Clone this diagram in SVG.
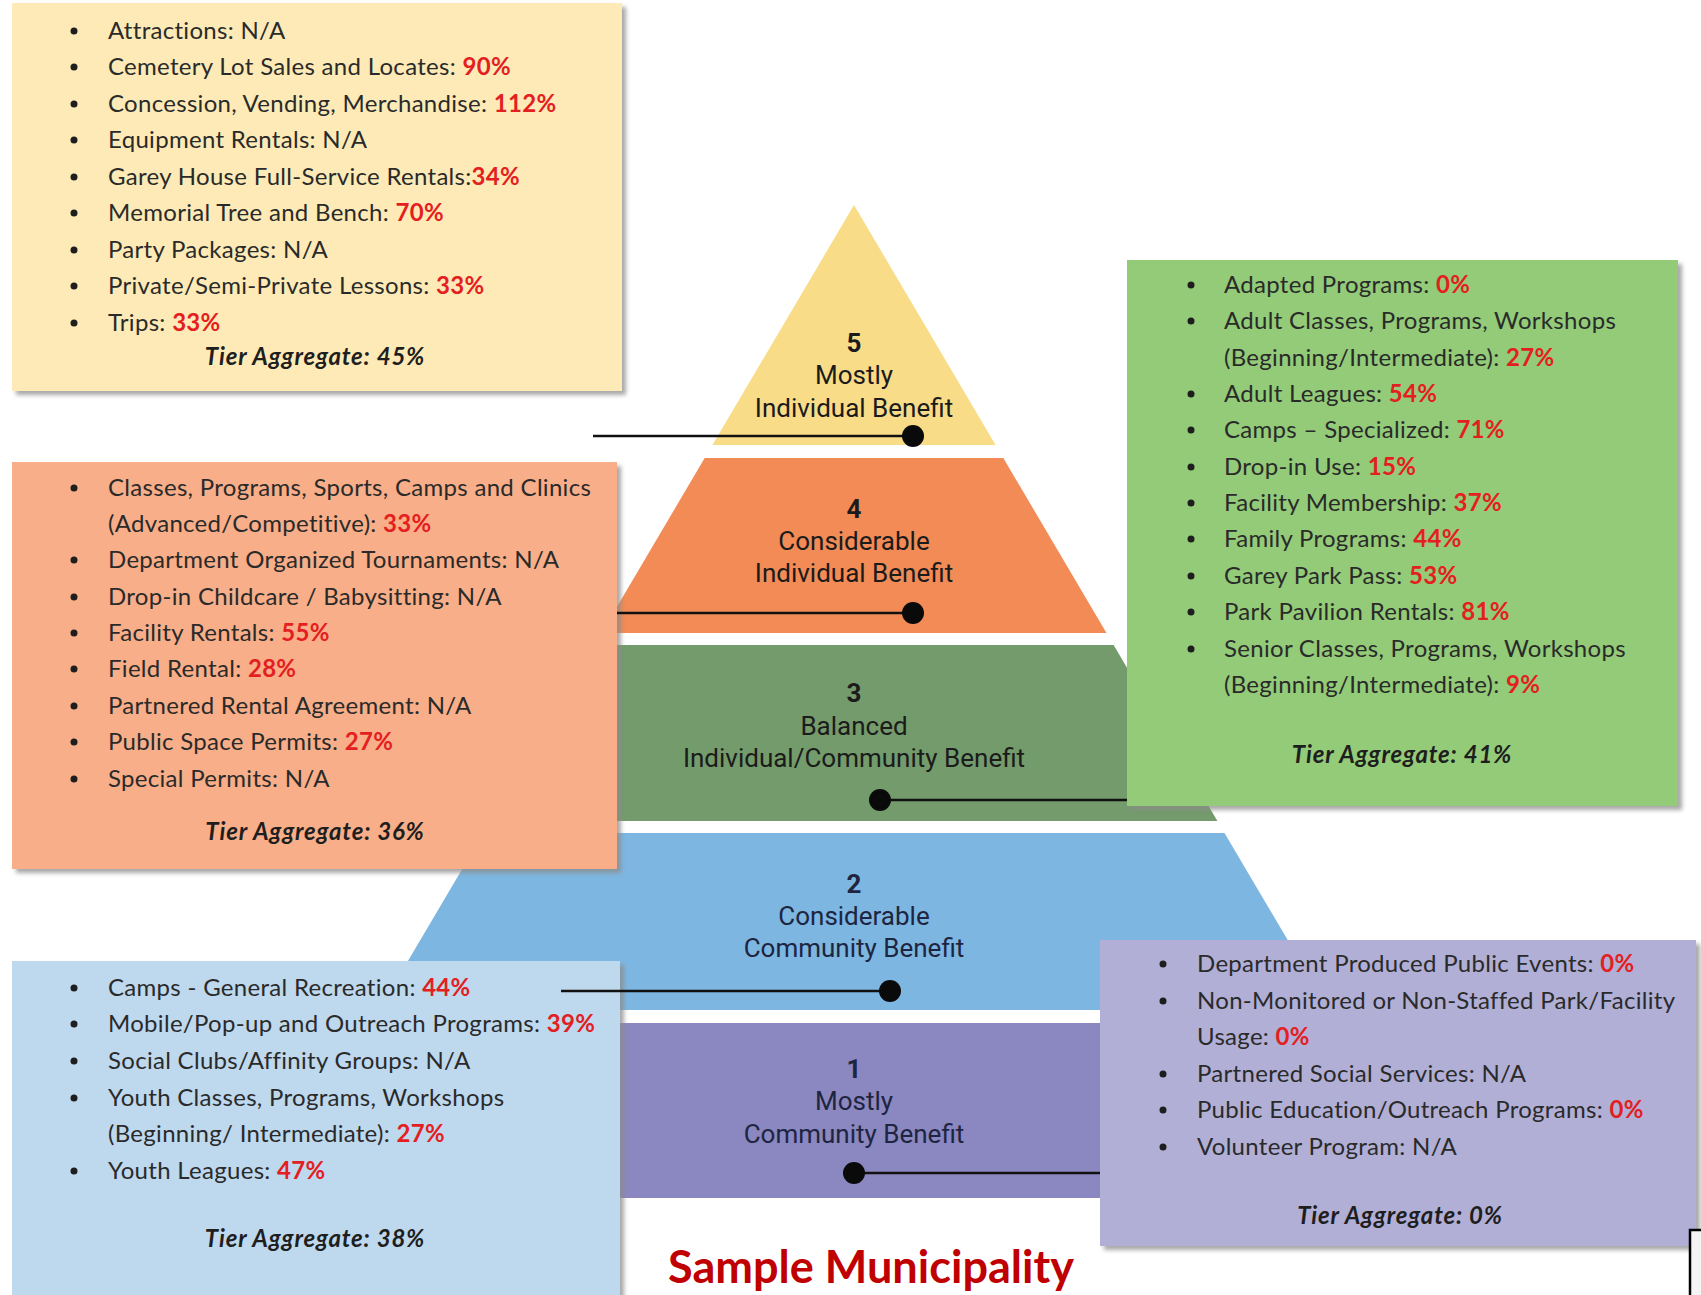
<svg xmlns="http://www.w3.org/2000/svg" width="1701" height="1295" viewBox="0 0 1701 1295">
  <defs>
    <filter id="shadow" x="-5%" y="-5%" width="112%" height="112%">
      <feDropShadow dx="4" dy="4" stdDeviation="2" flood-color="#8a8a8a" flood-opacity="0.75"/>
    </filter>
  </defs>
  <style>
    .tier-label { font-family: Roboto, "Liberation Sans", sans-serif; font-size: 26px; text-anchor: middle; fill: #1b1b1b; }
    .tier-num { font-weight: bold; }
    .tier-low { fill: #1d2540; }
    .item { font-family: Lato, "Liberation Sans", sans-serif; font-size: 24px; letter-spacing: 0.3px; fill: #2a2a2a; }
    .pct { fill: #e3201f; font-weight: bold; }
    .agg { font-family: Lato, "Liberation Sans", sans-serif; font-size: 24px; letter-spacing: 0.8px; font-weight: bold; font-style: italic; fill: #1e1e1e; text-anchor: middle; }
    .bullet { fill: #1e1e1e; }
    .box { filter: url(#shadow); }
    .connector { stroke: #111; stroke-width: 2.6; fill: none; }
    .dot { fill: #0a0a0a; }
    .title { font-family: Lato, "Liberation Sans", sans-serif; font-size: 46px; font-weight: bold; fill: #c00000; }
  </style>

  <rect width="1701" height="1295" fill="#ffffff"/>

  <!-- Pyramid tiers, sliced from one triangle with apex at (854,205) -->
  <g id="tier-5">
    <polygon points="854,205 995.6,445 712.4,445" fill="#f9dc88"/>
    <text class="tier-label tier-num" x="854" y="352">5</text>
    <text class="tier-label" x="854" y="384">Mostly</text>
    <text class="tier-label" x="854" y="417">Individual Benefit</text>
  </g>
  <g id="tier-4">
    <polygon points="704.7,458 1003.3,458 1106.5,633 601.5,633" fill="#f28b56"/>
    <text class="tier-label tier-num" x="854" y="518">4</text>
    <text class="tier-label" x="854" y="550">Considerable</text>
    <text class="tier-label" x="854" y="582">Individual Benefit</text>
  </g>
  <g id="tier-3">
    <polygon points="594.4,645 1113.6,645 1217.4,821 490.6,821" fill="#739b6b"/>
    <text class="tier-label tier-num" x="854" y="702">3</text>
    <text class="tier-label" x="854" y="735">Balanced</text>
    <text class="tier-label" x="854" y="767">Individual/Community Benefit</text>
  </g>
  <g id="tier-2">
    <polygon points="483.5,833 1224.5,833 1329,1010 379,1010" fill="#7db6e0"/>
    <text class="tier-label tier-num tier-low" x="854" y="893">2</text>
    <text class="tier-label tier-low" x="854" y="925">Considerable</text>
    <text class="tier-label tier-low" x="854" y="957">Community Benefit</text>
  </g>
  <g id="tier-1">
    <polygon points="371.4,1023 1336.6,1023 1440,1198 268,1198" fill="#8b87c1"/>
    <text class="tier-label tier-num tier-low" x="854" y="1078">1</text>
    <text class="tier-label tier-low" x="854" y="1110">Mostly</text>
    <text class="tier-label tier-low" x="854" y="1143">Community Benefit</text>
  </g>

  <!-- Tier 5 services -->
  <g id="box-tier-5">
    <rect class="box" x="12" y="3" width="610" height="388" fill="#fdeab6"/>
    <g class="bullet">
      <circle cx="74" cy="31" r="3.5"/><circle cx="74" cy="67" r="3.5"/><circle cx="74" cy="104" r="3.5"/>
      <circle cx="74" cy="140" r="3.5"/><circle cx="74" cy="177" r="3.5"/><circle cx="74" cy="213" r="3.5"/>
      <circle cx="74" cy="250" r="3.5"/><circle cx="74" cy="286" r="3.5"/><circle cx="74" cy="323" r="3.5"/>
    </g>
    <text class="item" x="108" y="39">Attractions: N/A</text>
    <text class="item" x="108" y="75">Cemetery Lot Sales and Locates: <tspan class="pct">90%</tspan></text>
    <text class="item" x="108" y="112">Concession, Vending, Merchandise: <tspan class="pct">112%</tspan></text>
    <text class="item" x="108" y="148">Equipment Rentals: N/A</text>
    <text class="item" x="108" y="185">Garey House Full-Service Rentals:<tspan class="pct">34%</tspan></text>
    <text class="item" x="108" y="221">Memorial Tree and Bench: <tspan class="pct">70%</tspan></text>
    <text class="item" x="108" y="258">Party Packages: N/A</text>
    <text class="item" x="108" y="294">Private/Semi-Private Lessons: <tspan class="pct">33%</tspan></text>
    <text class="item" x="108" y="331">Trips: <tspan class="pct">33%</tspan></text>
    <text class="agg" x="315" y="365">Tier Aggregate: 45%</text>
  </g>

  <!-- Tier 4 services -->
  <g id="box-tier-4">
    <rect class="box" x="12" y="462" width="605" height="407" fill="#f8ae88"/>
    <g class="bullet">
      <circle cx="74" cy="488" r="3.5"/><circle cx="74" cy="560" r="3.5"/><circle cx="74" cy="597" r="3.5"/>
      <circle cx="74" cy="633" r="3.5"/><circle cx="74" cy="669" r="3.5"/><circle cx="74" cy="706" r="3.5"/>
      <circle cx="74" cy="742" r="3.5"/><circle cx="74" cy="779" r="3.5"/>
    </g>
    <text class="item" x="108" y="496">Classes, Programs, Sports, Camps and Clinics</text>
    <text class="item" x="108" y="532">(Advanced/Competitive): <tspan class="pct">33%</tspan></text>
    <text class="item" x="108" y="568">Department Organized Tournaments: N/A</text>
    <text class="item" x="108" y="605">Drop-in Childcare / Babysitting: N/A</text>
    <text class="item" x="108" y="641">Facility Rentals: <tspan class="pct">55%</tspan></text>
    <text class="item" x="108" y="677">Field Rental: <tspan class="pct">28%</tspan></text>
    <text class="item" x="108" y="714">Partnered Rental Agreement: N/A</text>
    <text class="item" x="108" y="750">Public Space Permits: <tspan class="pct">27%</tspan></text>
    <text class="item" x="108" y="787">Special Permits: N/A</text>
    <text class="agg" x="315" y="840">Tier Aggregate: 36%</text>
  </g>

  <!-- Tier 3 services -->
  <g id="box-tier-3">
    <rect class="box" x="1127" y="260" width="551" height="546" fill="#93cb78"/>
    <g class="bullet">
      <circle cx="1191" cy="285" r="3.5"/><circle cx="1191" cy="321" r="3.5"/><circle cx="1191" cy="394" r="3.5"/>
      <circle cx="1191" cy="430" r="3.5"/><circle cx="1191" cy="467" r="3.5"/><circle cx="1191" cy="503" r="3.5"/>
      <circle cx="1191" cy="539" r="3.5"/><circle cx="1191" cy="576" r="3.5"/><circle cx="1191" cy="612" r="3.5"/>
      <circle cx="1191" cy="649" r="3.5"/>
    </g>
    <text class="item" x="1224" y="293">Adapted Programs: <tspan class="pct">0%</tspan></text>
    <text class="item" x="1224" y="329">Adult Classes, Programs, Workshops</text>
    <text class="item" x="1224" y="366">(Beginning/Intermediate): <tspan class="pct">27%</tspan></text>
    <text class="item" x="1224" y="402">Adult Leagues: <tspan class="pct">54%</tspan></text>
    <text class="item" x="1224" y="438">Camps – Specialized: <tspan class="pct">71%</tspan></text>
    <text class="item" x="1224" y="475">Drop-in Use: <tspan class="pct">15%</tspan></text>
    <text class="item" x="1224" y="511">Facility Membership: <tspan class="pct">37%</tspan></text>
    <text class="item" x="1224" y="547">Family Programs: <tspan class="pct">44%</tspan></text>
    <text class="item" x="1224" y="584">Garey Park Pass: <tspan class="pct">53%</tspan></text>
    <text class="item" x="1224" y="620">Park Pavilion Rentals: <tspan class="pct">81%</tspan></text>
    <text class="item" x="1224" y="657">Senior Classes, Programs, Workshops</text>
    <text class="item" x="1224" y="693">(Beginning/Intermediate): <tspan class="pct">9%</tspan></text>
    <text class="agg" x="1402" y="763">Tier Aggregate: 41%</text>
  </g>

  <!-- Tier 2 services -->
  <g id="box-tier-2">
    <rect class="box" x="12" y="961" width="608" height="345" fill="#bed8ee"/>
    <g class="bullet">
      <circle cx="74" cy="988" r="3.5"/><circle cx="74" cy="1024" r="3.5"/><circle cx="74" cy="1061" r="3.5"/>
      <circle cx="74" cy="1098" r="3.5"/><circle cx="74" cy="1171" r="3.5"/>
    </g>
    <text class="item" x="108" y="996">Camps - General Recreation: <tspan class="pct">44%</tspan></text>
    <text class="item" x="108" y="1032">Mobile/Pop-up and Outreach Programs: <tspan class="pct">39%</tspan></text>
    <text class="item" x="108" y="1069">Social Clubs/Affinity Groups: N/A</text>
    <text class="item" x="108" y="1106">Youth Classes, Programs, Workshops</text>
    <text class="item" x="108" y="1142">(Beginning/ Intermediate): <tspan class="pct">27%</tspan></text>
    <text class="item" x="108" y="1179">Youth Leagues: <tspan class="pct">47%</tspan></text>
    <text class="agg" x="315" y="1247">Tier Aggregate: 38%</text>
  </g>

  <!-- Tier 1 services -->
  <g id="box-tier-1">
    <rect class="box" x="1100" y="940" width="596" height="306" fill="#b1afd6"/>
    <g class="bullet">
      <circle cx="1163" cy="964" r="3.5"/><circle cx="1163" cy="1001" r="3.5"/><circle cx="1163" cy="1074" r="3.5"/>
      <circle cx="1163" cy="1110" r="3.5"/><circle cx="1163" cy="1147" r="3.5"/>
    </g>
    <text class="item" x="1197" y="972">Department Produced Public Events: <tspan class="pct">0%</tspan></text>
    <text class="item" x="1197" y="1009">Non-Monitored or Non-Staffed Park/Facility</text>
    <text class="item" x="1197" y="1045">Usage: <tspan class="pct">0%</tspan></text>
    <text class="item" x="1197" y="1082">Partnered Social Services: N/A</text>
    <text class="item" x="1197" y="1118">Public Education/Outreach Programs: <tspan class="pct">0%</tspan></text>
    <text class="item" x="1197" y="1155">Volunteer Program: N/A</text>
    <text class="agg" x="1400" y="1224">Tier Aggregate: 0%</text>
  </g>

  <!-- Leader lines from each tier to its list -->
  <g id="connectors">
    <line class="connector" x1="593" y1="436" x2="913" y2="436"/>
    <circle class="dot" cx="913" cy="436" r="11"/>
    <line class="connector" x1="617" y1="613" x2="913" y2="613"/>
    <circle class="dot" cx="913" cy="613" r="11"/>
    <line class="connector" x1="880" y1="800" x2="1127" y2="800"/>
    <circle class="dot" cx="880" cy="800" r="11"/>
    <line class="connector" x1="561" y1="991" x2="890" y2="991"/>
    <circle class="dot" cx="890" cy="991" r="11"/>
    <line class="connector" x1="854" y1="1173" x2="1100" y2="1173"/>
    <circle class="dot" cx="854" cy="1173" r="11"/>
  </g>

  <text class="title" x="668" y="1283" textLength="406" lengthAdjust="spacingAndGlyphs">Sample Municipality</text>

  <!-- frame corner at the lower right -->
  <rect x="1690" y="1230" width="20" height="80" fill="#f4f4f4" stroke="#000" stroke-width="2.5"/>
</svg>
